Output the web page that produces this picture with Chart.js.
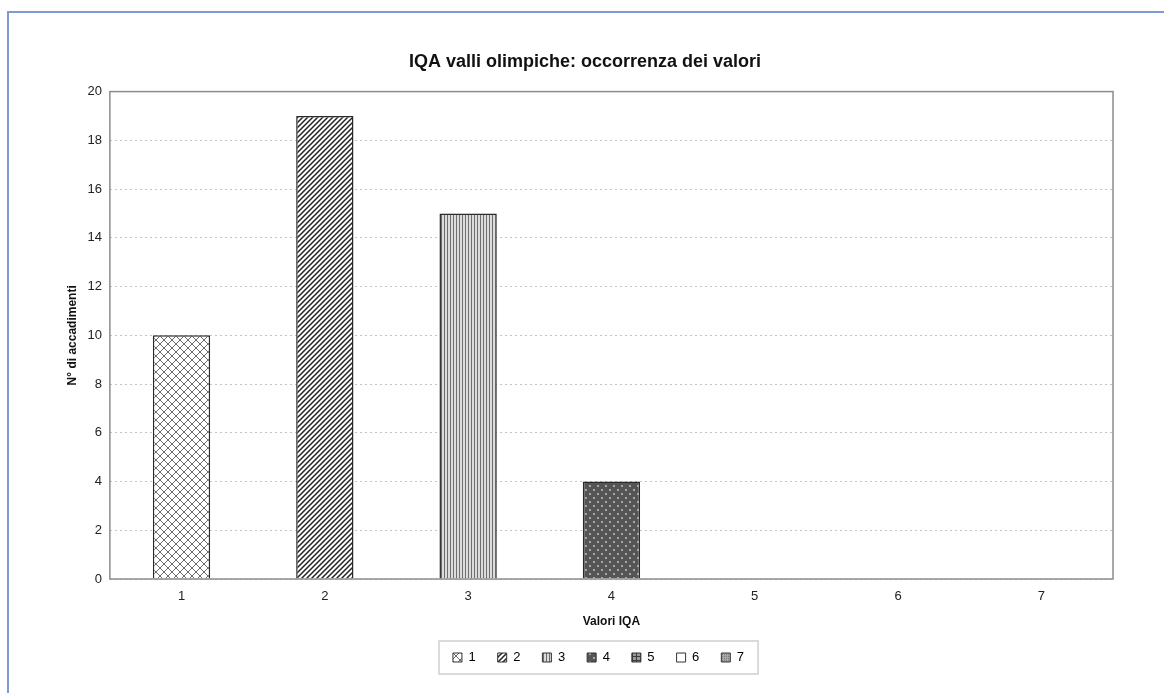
<!DOCTYPE html>
<html>
<head>
<meta charset="utf-8">
<title>IQA valli olimpiche</title>
<script src="https://cdn.jsdelivr.net/npm/chart.js@4.4.1/dist/chart.umd.min.js"></script>
<style>
  html, body { margin: 0; padding: 0; background: #fff; }
  #wrap { width: 1164px; height: 693px; position: relative; }
</style>
</head>
<body>
<div id="wrap"><canvas id="iqa"></canvas></div>
<script>
// valori IQA e numero di accadimenti
const categories = ['1', '2', '3', '4', '5', '6', '7'];
const occurrences = [10, 19, 15, 4, 0, 0, 0];
const yMin = 0;
const yMax = 20;
const yStep = 2;
const chartTitle = 'IQA valli olimpiche: occorrenza dei valori';
const xTitle = 'Valori IQA';
const yTitle = 'N° di accadimenti';

const FONT = "'Liberation Sans', Arial, Helvetica, sans-serif";

// retini delle barre, uno per valore
function makePattern(w, h, paint) {
    const c = document.createElement('canvas');
    c.width = w;
    c.height = h;
    const g = c.getContext('2d');
    paint(g, w, h);
    return g.createPattern(c, 'repeat');
}

const fills = [
    // reticolo a rombi
    makePattern(8, 8, (g, w, h) => {
        g.fillStyle = '#fff';
        g.fillRect(0, 0, w, h);
        g.strokeStyle = '#6a6a6a';
        g.lineWidth = 1;
        g.beginPath();
        g.moveTo(0, 0); g.lineTo(w, h);
        g.moveTo(w, 0); g.lineTo(0, h);
        g.stroke();
    }),
    // tratteggio obliquo
    makePattern(5, 5, (g, w, h) => {
        g.fillStyle = '#fff';
        g.fillRect(0, 0, w, h);
        g.strokeStyle = '#222';
        g.lineWidth = 1.5;
        g.beginPath();
        g.moveTo(-1, h + 1); g.lineTo(w + 1, -1);
        g.moveTo(-1, 1); g.lineTo(1, -1);
        g.moveTo(w - 1, h + 1); g.lineTo(w + 1, h - 1);
        g.stroke();
    }),
    // righe verticali fitte
    makePattern(3, 1, (g, w, h) => {
        g.fillStyle = '#dcdcdc';
        g.fillRect(0, 0, w, h);
        g.fillStyle = '#6e6e6e';
        g.fillRect(0, 0, 1, h);
    }),
    // puntinato su fondo scuro
    makePattern(8, 8, (g, w, h) => {
        g.fillStyle = '#555';
        g.fillRect(0, 0, w, h);
        g.fillStyle = '#cfcfcf';
        g.beginPath();
        g.arc(2, 2, 0.9, 0, Math.PI * 2);
        g.arc(6, 6, 0.9, 0, Math.PI * 2);
        g.fill();
    }),
    // griglia scura
    makePattern(4, 4, (g, w, h) => {
        g.fillStyle = '#9a9a9a';
        g.fillRect(0, 0, w, h);
        g.fillStyle = '#3c3c3c';
        g.fillRect(0, 0, w, 1);
        g.fillRect(0, 0, 1, h);
    }),
    // pieno bianco
    makePattern(2, 2, (g, w, h) => {
        g.fillStyle = '#fff';
        g.fillRect(0, 0, w, h);
    }),
    // grigio puntinato
    makePattern(2, 2, (g, w, h) => {
        g.fillStyle = '#a8a8a8';
        g.fillRect(0, 0, w, h);
        g.fillStyle = '#7a7a7a';
        g.fillRect(0, 0, 1, 1);
    })
];

// cornice blu, bordo dell'area del grafico e riquadro della legenda
const framePlugin = {
    id: 'frame',
    beforeDraw(chart) {
        const { ctx, width, height } = chart;
        ctx.save();
        ctx.fillStyle = '#fff';
        ctx.fillRect(0, 0, width, height);
        ctx.strokeStyle = '#7d9ad6';
        ctx.lineWidth = 2;
        ctx.beginPath();
        ctx.moveTo(8, height);
        ctx.lineTo(8, 12);
        ctx.lineTo(width, 12);
        ctx.stroke();
        ctx.restore();
    },
    afterLayout(chart) {
        // legenda centrata un po' più a destra
        chart.legend.left += 27;
    },
    afterDatasetsDraw(chart) {
        const { ctx, chartArea: a } = chart;
        ctx.save();
        ctx.strokeStyle = '#8c8c8c';
        ctx.lineWidth = 1.5;
        ctx.strokeRect(a.left, a.top, a.right - a.left, a.bottom - a.top);
        ctx.restore();
    },
    afterDraw(chart) {
        const boxes = chart.legend.legendHitBoxes;
        if (!boxes || !boxes.length) return;
        const first = boxes[0];
        const last = boxes[boxes.length - 1];
        const cy = first.top + first.height / 2;
        const ctx = chart.ctx;
        ctx.save();
        ctx.strokeStyle = '#cfcfcf';
        ctx.lineWidth = 1.5;
        ctx.strokeRect(first.left - 14, cy - 16.5, last.left + last.width + 14 - (first.left - 14), 33);
        ctx.restore();
    }
};

new Chart(document.getElementById('iqa'), {
    type: 'bar',
    data: {
        labels: categories,
        datasets: [{
            label: yTitle,
            data: occurrences,
            backgroundColor: fills,
            borderColor: '#2a2a2a',
            borderWidth: 1.5,
            barPercentage: 0.4,
            categoryPercentage: 1
        }]
    },
    options: {
        responsive: true,
        maintainAspectRatio: false,
        devicePixelRatio: 1,
        animation: false,
        layout: { padding: { top: 45, left: 57, right: 51, bottom: 19 } },
        plugins: {
            title: {
                display: true,
                text: chartTitle,
                color: '#111',
                font: { family: FONT, size: 18, weight: 'bold' },
                padding: { top: 6, bottom: 19 }
            },
            legend: {
                position: 'bottom',
                onClick: () => {},
                labels: {
                    boxWidth: 9,
                    boxHeight: 9,
                    padding: 22,
                    color: '#222',
                    font: { family: FONT, size: 13 },
                    generateLabels: () => categories.map((c, i) => ({
                        text: c,
                        fillStyle: fills[i],
                        strokeStyle: '#333',
                        lineWidth: 1,
                        hidden: false,
                        index: i
                    }))
                }
            },
            tooltip: { enabled: false }
        },
        scales: {
            x: {
                grid: { display: false, drawTicks: false },
                border: { display: false },
                ticks: { color: '#222', padding: 10, font: { family: FONT, size: 13 } },
                title: {
                    display: true,
                    text: xTitle,
                    color: '#111',
                    font: { family: FONT, size: 12, weight: 'bold' },
                    padding: { top: 0, bottom: 0 }
                }
            },
            y: {
                min: yMin,
                max: yMax,
                grid: { color: '#c4c4c4', lineWidth: 1, drawTicks: false, tickLength: 0 },
                border: { display: false, dash: [2, 3] },
                ticks: { stepSize: yStep, color: '#222', padding: 8, font: { family: FONT, size: 13 } },
                title: {
                    display: true,
                    text: yTitle,
                    color: '#111',
                    font: { family: FONT, size: 12, weight: 'bold' },
                    padding: { top: 8, bottom: 0 }
                }
            }
        }
    },
    plugins: [framePlugin]
});
</script>
</body>
</html>
